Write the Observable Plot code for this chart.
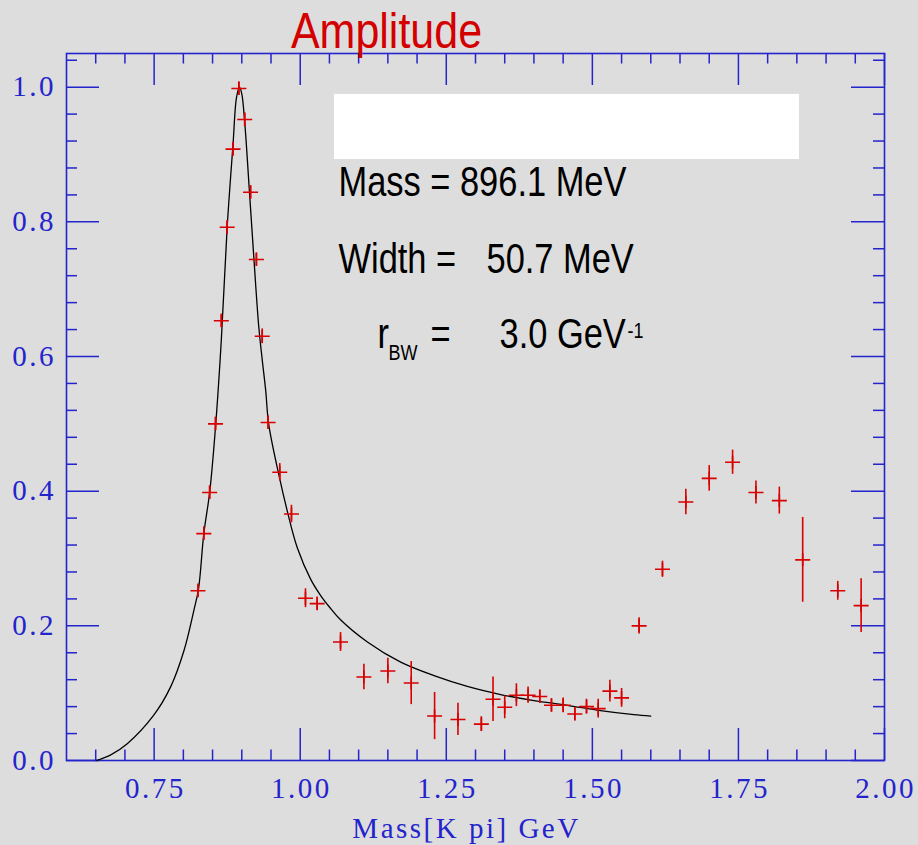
<!DOCTYPE html>
<html><head><meta charset="utf-8">
<script src="https://cdn.jsdelivr.net/npm/d3@7"></script>
<script src="https://cdn.jsdelivr.net/npm/@observablehq/plot@0.6"></script>
<style>
html,body{margin:0;padding:0;background:#dddddd;overflow:hidden;}
#chart svg g[font-family="Liberation Serif"]{letter-spacing:2.5px;}
</style></head><body><div id="chart"></div>
<script>
// ---- data ----
const massX = [0.825,0.835,0.845,0.855,0.865,0.875,0.885,0.895,0.905,0.915,0.925,0.935,0.945,0.965,0.985,1.009,1.029,1.069,1.109,1.150,1.190,1.230,1.270,1.310,1.330,1.350,1.370,1.390,1.410,1.430,1.450,1.470,1.490,1.510,1.530,1.550,1.580,1.620,1.660,1.700,1.740,1.780,1.820,1.860,1.920,1.960];
const amplitude = [0.252,0.337,0.398,0.500,0.653,0.792,0.908,0.998,0.952,0.844,0.744,0.630,0.502,0.428,0.366,0.241,0.233,0.176,0.124,0.133,0.115,0.066,0.061,0.054,0.091,0.079,0.097,0.097,0.095,0.082,0.082,0.069,0.080,0.077,0.103,0.093,0.200,0.284,0.384,0.419,0.443,0.398,0.386,0.298,0.252,0.230];
const ampError = [0.010,0.010,0.010,0.010,0.010,0.010,0.010,0.010,0.010,0.010,0.010,0.011,0.010,0.013,0.013,0.014,0.010,0.014,0.019,0.019,0.032,0.035,0.024,0.011,0.033,0.017,0.017,0.012,0.010,0.010,0.011,0.010,0.011,0.014,0.016,0.014,0.012,0.012,0.019,0.019,0.018,0.017,0.020,0.063,0.014,0.040];

const fitX = [0.651,0.675,0.704,0.749,0.778,0.801,0.818,0.826,0.835,0.845,0.855,0.865,0.875,0.885,0.891,0.896,0.900,0.905,0.913,0.921,0.929,0.935,0.941,0.946,0.963,0.978,0.995,1.018,1.035,1.050,1.069,1.115,1.172,1.229,1.286,1.343,1.400,1.457,1.514,1.571,1.600];
const fitY = [0.000,0.008,0.025,0.067,0.109,0.163,0.223,0.255,0.337,0.398,0.495,0.625,0.792,0.915,0.985,1.000,0.990,0.948,0.846,0.742,0.645,0.595,0.549,0.500,0.426,0.370,0.316,0.269,0.245,0.228,0.209,0.176,0.146,0.126,0.110,0.098,0.089,0.082,0.074,0.068,0.066];

const xDomain = [0.6, 2.0];
const yDomain = [0, 1.05];
const xTickValues = [0.75,1.00,1.25,1.50,1.75,2.00];
const xTickLabels = ["0.75","1.00","1.25","1.50","1.75","2.00"];
const xMinorValues = [0.65,0.70,0.80,0.85,0.90,0.95,1.05,1.10,1.15,1.20,1.30,1.35,1.40,1.45,1.55,1.60,1.65,1.70,1.80,1.85,1.90,1.95];
const yTickValues = [0.0,0.2,0.4,0.6,0.8,1.0];
const yTickLabels = ["0.0","0.2","0.4","0.6","0.8","1.0"];
const yMinorValues = [0.04,0.08,0.12,0.16,0.24,0.28,0.32,0.36,0.44,0.48,0.52,0.56,0.64,0.68,0.72,0.76,0.84,0.88,0.92,0.96,1.04];

const titleText = "Amplitude";
const xLabelText = "Mass[K pi] GeV";
// annotation pieces (data coordinates of their left baseline)
const annotBig = [
  {x:1.0655, y:0.8391, text:"Mass = 896.1 MeV"},
  {x:1.0655, y:0.7233, text:"Width ="},
  {x:1.3188, y:0.7233, text:"50.7 MeV"},
  {x:1.1323, y:0.6119, text:"r"},
  {x:1.2230, y:0.6119, text:"="},
  {x:1.3411, y:0.6119, text:"3.0 GeV"}
];
const annotSmall = [
  {x:1.1511, y:0.5941, text:"BW"},
  {x:1.5601, y:0.6282, text:"-1"}
];
const whiteBox = [{x1:1.0587, x2:1.8545, y1:0.8926, y2:0.9892}];

// ---- layout ----
const W = 918, H = 845, mL = 66, mR = 34, mT = 53, mB = 85;
const pxX = (W - mL - mR) / (xDomain[1] - xDomain[0]);
const pxY = (H - mT - mB) / (yDomain[1] - yDomain[0]);
const blue = "#2424cc", red = "#d80000";

const points = massX.map((x, i) => ({x, y: amplitude[i], e: ampError[i]}));
const fit = fitX.map((x, i) => ({x, y: fitY[i]}));

const majL = 32, minL = 10.5;
const xTicksB = [...xTickValues.map(v => ({x:v, y1:yDomain[0], y2:yDomain[0] + majL/pxY})), ...xMinorValues.map(v => ({x:v, y1:yDomain[0], y2:yDomain[0] + minL/pxY}))];
const xTicksT = [...xTickValues.map(v => ({x:v, y1:yDomain[1] - majL/pxY, y2:yDomain[1]})), ...xMinorValues.map(v => ({x:v, y1:yDomain[1] - minL/pxY, y2:yDomain[1]}))];
const yTicksL = [...yTickValues.map(v => ({y:v, x1:xDomain[0], x2:xDomain[0] + (majL+1)/pxX})), ...yMinorValues.map(v => ({y:v, x1:xDomain[0], x2:xDomain[0] + (minL+0.5)/pxX}))];
const yTicksR = [...yTickValues.map(v => ({y:v, x1:xDomain[1] - (majL+1)/pxX, x2:xDomain[1]})), ...yMinorValues.map(v => ({y:v, x1:xDomain[1] - (minL+0.5)/pxX, x2:xDomain[1]}))];

const xLabels = xTickValues.map((v, i) => ({x:v, y:yDomain[0], t:xTickLabels[i]}));
const yLabels = yTickValues.map((v, i) => ({x:xDomain[0], y:v, t:yTickLabels[i]}));

const crossSym = {
  draw(ctx, size) {
    const r = Math.sqrt(size / Math.PI);
    ctx.moveTo(-r, 0); ctx.lineTo(r, 0);
    ctx.moveTo(0, -r * 0.87); ctx.lineTo(0, r * 0.87);
  }
};

const chart = Plot.plot({
  width: W, height: H,
  marginLeft: mL, marginRight: mR, marginTop: mT, marginBottom: mB,
  style: {background: "#dddddd", overflow: "visible"},
  x: {domain: xDomain, axis: null},
  y: {domain: yDomain, axis: null},
  marks: [
    Plot.rect(whiteBox, {x1:"x1", x2:"x2", y1:"y1", y2:"y2", fill:"white"}),
    Plot.ruleX(xTicksB, {x:"x", y1:"y1", y2:"y2", stroke:blue, strokeWidth:1.5}),
    Plot.ruleX(xTicksT, {x:"x", y1:"y1", y2:"y2", stroke:blue, strokeWidth:1.5}),
    Plot.ruleY(yTicksL, {y:"y", x1:"x1", x2:"x2", stroke:blue, strokeWidth:1.5}),
    Plot.ruleY(yTicksR, {y:"y", x1:"x1", x2:"x2", stroke:blue, strokeWidth:1.5}),
    Plot.frame({stroke:blue, strokeWidth:1.6}),
    Plot.line(fit, {x:"x", y:"y", stroke:"black", strokeWidth:1.3, curve:"catmull-rom"}),
    Plot.ruleX(points, {x:"x", y1:d => d.y - d.e, y2:d => d.y + d.e, stroke:red, strokeWidth:1.6}),
    Plot.dot(points, {x:"x", y:"y", symbol:crossSym, r:7.5, stroke:red, strokeWidth:1.6, fill:"none"}),
    Plot.text(xLabels, {x:"x", y:"y", text:"t", dy:28.5, dx:1.2, lineAnchor:"middle", textAnchor:"middle", fontFamily:"Liberation Serif", fontSize:29, fill:blue}),
    Plot.text(yLabels, {x:"x", y:"y", text:"t", dx:-10.5, lineAnchor:"middle", textAnchor:"end", fontFamily:"Liberation Serif", fontSize:29, fill:blue}),
    Plot.text([{x:1.2846, y:-0.1158, t:xLabelText}], {x:"x", y:"y", text:"t", lineAnchor:"bottom", textAnchor:"middle", fontFamily:"Liberation Serif", fontSize:29, fill:blue}),
    Plot.text([{x:1.1477, y:1.0589, t:titleText}], {x:"x", y:"y", text:"t", lineAnchor:"bottom", textAnchor:"middle", fontFamily:"Liberation Sans", fontSize:50, fill:"#d40000"}),
    Plot.text(annotBig, {x:"x", y:"y", text:"text", lineAnchor:"bottom", textAnchor:"start", fontFamily:"Liberation Sans", fontSize:42, fill:"black"}),
    Plot.text(annotSmall, {x:"x", y:"y", text:"text", lineAnchor:"bottom", textAnchor:"start", fontFamily:"Liberation Sans", fontSize:22, fill:"black"})
  ]
});

// narrow the Helvetica-like texts (the original uses a condensed face)
chart.querySelectorAll('g[font-family="Liberation Sans"] text').forEach(t => {
  const s = t.textContent === titleText ? 0.86 : 0.82;
  let tr = t.getAttribute("transform");
  if (!tr) {
    const x = t.getAttribute("x") || 0, y = t.getAttribute("y") || 0;
    t.removeAttribute("x"); t.removeAttribute("y");
    tr = `translate(${x},${y})`;
  }
  t.setAttribute("transform", tr + ` scale(${s},1)`);
});

document.getElementById("chart").appendChild(chart);
</script>
</body></html>
